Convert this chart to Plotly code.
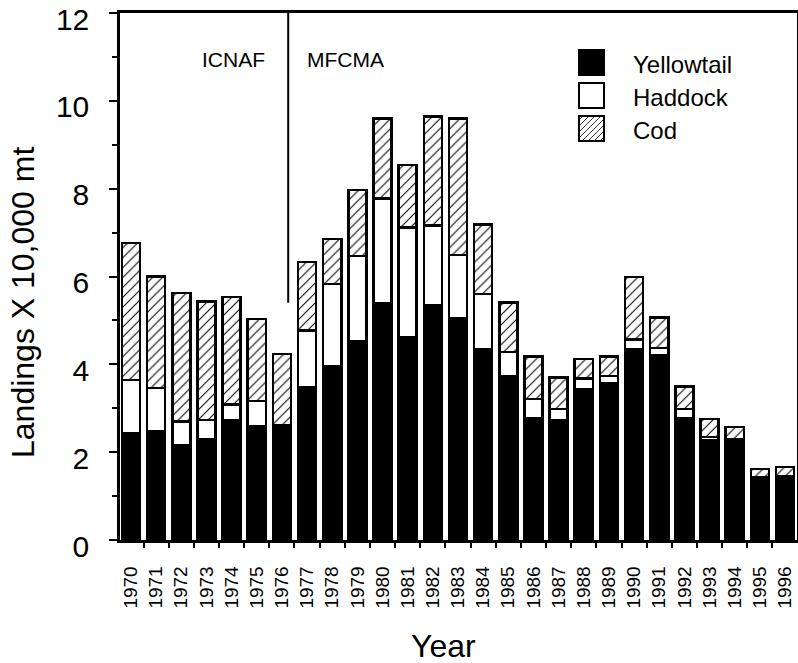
import plotly.graph_objects as go

# ---- data (10,000 mt) ----
years = [str(y) for y in range(1970, 1997)]
yellowtail = [2.43, 2.47, 2.15, 2.29, 2.73, 2.58, 2.62, 3.48, 3.96, 4.53,
              5.39, 4.62, 5.35, 5.06, 4.34, 3.72, 2.77, 2.73, 3.44, 3.57,
              4.34, 4.20, 2.77, 2.28, 2.30, 1.43, 1.46]
haddock = [1.21, 0.99, 0.55, 0.44, 0.35, 0.59, 0.00, 1.29, 1.87, 1.94,
           2.39, 2.50, 1.81, 1.43, 1.26, 0.56, 0.44, 0.25, 0.24, 0.17,
           0.22, 0.17, 0.21, 0.07, 0.00, 0.00, 0.00]
cod = [3.12, 2.54, 2.92, 2.70, 2.45, 1.86, 1.62, 1.56, 1.02, 1.50,
       1.82, 1.42, 2.48, 3.11, 1.58, 1.13, 0.97, 0.72, 0.44, 0.44,
       1.43, 0.70, 0.51, 0.40, 0.27, 0.19, 0.20]
y_ticks = [0, 2, 4, 6, 8, 10, 12]
y_minor = [1, 3, 5, 7, 9, 11]
series_names = ["Yellowtail", "Haddock", "Cod"]
period_labels = ["ICNAF", "MFCMA"]

FONT = "Liberation Sans, Arial, sans-serif"
W, H = 798, 663
L, R, T, B = 120, 1, 13, 123
pw, ph = W - L - R, H - T - B


def px(x):
    return (x - L) / pw


def py(y):
    return (H - B - y) / ph


outline = dict(color="black", width=2.5)
fig = go.Figure()
fig.add_bar(x=years, y=yellowtail, name=series_names[0],
            marker=dict(color="black", line=outline))
fig.add_bar(x=years, y=haddock, name=series_names[1],
            marker=dict(color="white", line=outline))
fig.add_bar(x=years, y=cod, name=series_names[2],
            marker=dict(color="white", line=outline,
                        pattern=dict(shape="/", fgcolor="black", bgcolor="white",
                                     size=7, solidity=0.15)))

shapes = []
annotations = []

# period divider
shapes.append(dict(type="line", xref="x", yref="y", x0=6.25, x1=6.25, y0=5.4, y1=12,
                   line=dict(color="black", width=2)))
annotations.append(dict(text=period_labels[0], xref="paper", yref="paper",
                        x=px(233), y=py(59), showarrow=False, xanchor="center", yanchor="middle",
                        font=dict(family=FONT, size=21, color="black")))
annotations.append(dict(text=period_labels[1], xref="paper", yref="paper",
                        x=px(345), y=py(59), showarrow=False, xanchor="center", yanchor="middle",
                        font=dict(family=FONT, size=21, color="black")))

# custom legend
box_x0, box_x1 = 579, 604
box_tops = [50, 83, 116]
text_centers = [64, 97, 130]
fills = ["black", "white", "white"]
for name, top, tc, fill in zip(series_names, box_tops, text_centers, fills):
    shapes.append(dict(type="rect", xref="paper", yref="paper",
                       x0=px(box_x0), x1=px(box_x1), y0=py(top + 25), y1=py(top),
                       fillcolor=fill, line=dict(color="black", width=2)))
    annotations.append(dict(text=name, xref="paper", yref="paper",
                            x=px(631), y=py(tc), showarrow=False, xanchor="left", yanchor="middle",
                            font=dict(family=FONT, size=24, color="black")))
# hatching inside the cod legend box
s = 25
top = box_tops[2]
bottom = top + s
for c in range(-21, 22, 6):
    if c >= 0:
        u0, v0, u1, v1 = c, 0, s, s - c
    else:
        u0, v0, u1, v1 = 0, -c, s + c, s
    shapes.append(dict(type="line", xref="paper", yref="paper",
                       x0=px(box_x0 + u0), y0=py(bottom - v0),
                       x1=px(box_x0 + u1), y1=py(bottom - v1),
                       line=dict(color="black", width=0.8)))

# axis titles
annotations.append(dict(text="Landings X 10,000 mt", xref="paper", yref="paper",
                        x=px(23), y=py(303), showarrow=False, textangle=-90,
                        xanchor="center", yanchor="middle",
                        font=dict(family=FONT, size=32, color="black")))
annotations.append(dict(text="Year", xref="paper", yref="paper",
                        x=px(443), y=py(646), showarrow=False,
                        xanchor="center", yanchor="middle",
                        font=dict(family=FONT, size=32, color="black")))

fig.update_layout(
    template="none",
    width=W, height=H,
    margin=dict(l=L, r=R, t=T, b=B, pad=0, autoexpand=False),
    paper_bgcolor="white", plot_bgcolor="white",
    barmode="stack", bargap=0.28,
    showlegend=False,
    font=dict(family=FONT, color="black"),
    shapes=shapes, annotations=annotations,
    xaxis=dict(type="category", range=[-0.437, 26.477], tickson="boundaries",
               automargin=False,
               ticks="outside", ticklen=5, tickwidth=1.5, tickcolor="black",
               tickangle=-90, tickfont=dict(family=FONT, size=19, color="black"),
               ticklabelstandoff=16,
               showline=True, linewidth=2.5, linecolor="black", mirror=True,
               showgrid=False, zeroline=False),
    yaxis=dict(range=[0, 12], tickvals=y_ticks, ticktext=[str(v) for v in y_ticks],
               automargin=False,
               ticks="outside", ticklen=8, tickwidth=2, tickcolor="black",
               tickfont=dict(family=FONT, size=30, color="black"),
               ticklabelstandoff=14, ticklabelshift=6, ticklabeloverflow="allow",
               minor=dict(tickvals=y_minor, ticks="outside", ticklen=5, tickwidth=2,
                          tickcolor="black", showgrid=False),
               showline=True, linewidth=2.5, linecolor="black", mirror=True,
               showgrid=False, zeroline=False),
)

fig.write_html("out.html", config={"displayModeBar": False},
               post_script="document.body.style.margin='0';document.body.style.padding='0';")
